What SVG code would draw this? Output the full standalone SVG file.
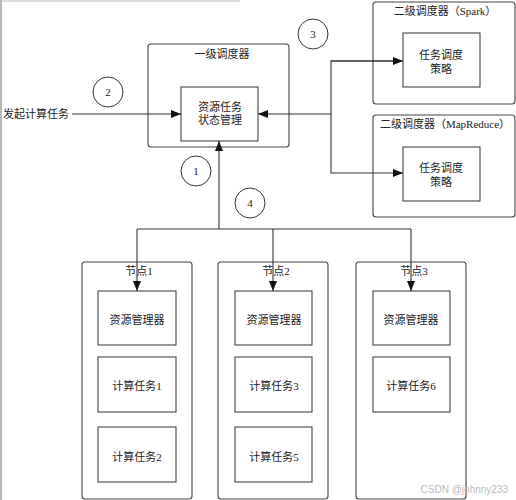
<svg xmlns="http://www.w3.org/2000/svg" width="516" height="500" viewBox="0 0 516 500">
<style>
text{font-family:"Liberation Serif","Noto Sans CJK SC",serif;font-size:11px;fill:#222;text-anchor:middle;dominant-baseline:central}
.outer{fill:#fff;stroke:#444;stroke-width:1.1}
.inner{fill:#fff;stroke:#444;stroke-width:1.1}
.ln{fill:none;stroke:#333;stroke-width:1.1}
.circ{fill:#fff;stroke:#333;stroke-width:1}
</style>
<defs>
<marker id="arr" viewBox="0 0 10 8" refX="10" refY="4" markerWidth="10" markerHeight="8" markerUnits="userSpaceOnUse" orient="auto">
<path d="M0,0 L10,4 L0,8 Z" fill="#111"/>
</marker>
</defs>
<rect width="516" height="500" fill="#fff"/>
<line x1="1" y1="0" x2="1" y2="500" stroke="#888" stroke-width="1.2"/>
<line x1="0" y1="1" x2="240" y2="1" stroke="#bbb" stroke-width="1"/>

<g id="scheduler1">
<rect class="outer" x="148" y="44" width="141" height="103" rx="3"/>
<text x="222" y="54">一级调度器</text>
<rect class="inner" x="181" y="87" width="77" height="54"/>
<text x="220" y="107">资源任务</text>
<text x="220" y="120">状态管理</text>
</g>

<g id="spark">
<rect class="outer" x="373" y="2" width="142" height="102" rx="3"/>
<text x="445" y="11">二级调度器（Spark）</text>
<rect class="inner" x="403" y="33" width="77" height="54"/>
<text x="441" y="55">任务调度</text>
<text x="441" y="69">策略</text>
</g>

<g id="mapreduce">
<rect class="outer" x="373" y="115" width="142" height="102" rx="3"/>
<text x="445" y="124">二级调度器（MapReduce）</text>
<rect class="inner" x="403" y="147" width="77" height="54"/>
<text x="441" y="168">任务调度</text>
<text x="441" y="182">策略</text>
</g>

<g id="node1">
<rect class="outer" x="82" y="262" width="110" height="237" rx="3"/>
<text x="139" y="271">节点1</text>
<rect class="inner" x="98" y="291" width="78" height="54"/>
<text x="137" y="320">资源管理器</text>
<rect class="inner" x="98" y="357" width="78" height="55"/>
<text x="137" y="386">计算任务1</text>
<rect class="inner" x="98" y="427" width="78" height="55"/>
<text x="137" y="457">计算任务2</text>
</g>

<g id="node2">
<rect class="outer" x="218" y="262" width="110" height="237" rx="3"/>
<text x="276" y="271">节点2</text>
<rect class="inner" x="235" y="291" width="77" height="54"/>
<text x="274" y="320">资源管理器</text>
<rect class="inner" x="235" y="357" width="77" height="55"/>
<text x="274" y="386">计算任务3</text>
<rect class="inner" x="235" y="427" width="77" height="55"/>
<text x="274" y="457">计算任务5</text>
</g>

<g id="node3">
<rect class="outer" x="356" y="262" width="110" height="237" rx="3"/>
<text x="414" y="271">节点3</text>
<rect class="inner" x="373" y="291" width="77" height="54"/>
<text x="411" y="320">资源管理器</text>
<rect class="inner" x="373" y="357" width="77" height="55"/>
<text x="411" y="386">计算任务6</text>
</g>

<g id="connectors">
<polyline class="ln" points="403,61 331,61 331,173 403,173" marker-end="url(#arr)"/>
<line class="ln" x1="331" y1="61" x2="403" y2="61" marker-end="url(#arr)"/>
<line class="ln" x1="72" y1="114" x2="181" y2="114" marker-end="url(#arr)"/>
<line class="ln" x1="331" y1="114" x2="258" y2="114" marker-end="url(#arr)"/>
<line class="ln" x1="219" y1="229" x2="219" y2="141" marker-end="url(#arr)"/>
<line class="ln" x1="137" y1="229" x2="411" y2="229"/>
<line class="ln" x1="137" y1="229" x2="137" y2="291" marker-end="url(#arr)"/>
<line class="ln" x1="273" y1="229" x2="273" y2="291" marker-end="url(#arr)"/>
<line class="ln" x1="411" y1="229" x2="411" y2="291" marker-end="url(#arr)"/>
</g>

<g id="labels">
<text x="36" y="114">发起计算任务</text>
<circle class="circ" cx="108" cy="92" r="15"/>
<text x="108" y="92">2</text>
<circle class="circ" cx="313" cy="34" r="15"/>
<text x="313" y="34">3</text>
<circle class="circ" cx="196" cy="171" r="15"/>
<text x="196" y="171">1</text>
<circle class="circ" cx="250" cy="203" r="15"/>
<text x="250" y="203">4</text>
</g>
<text x="508" y="489" style="font-family:'Liberation Sans',sans-serif;font-size:10px;fill:#bbb;text-anchor:end">CSDN @johnny233</text>
</svg>
